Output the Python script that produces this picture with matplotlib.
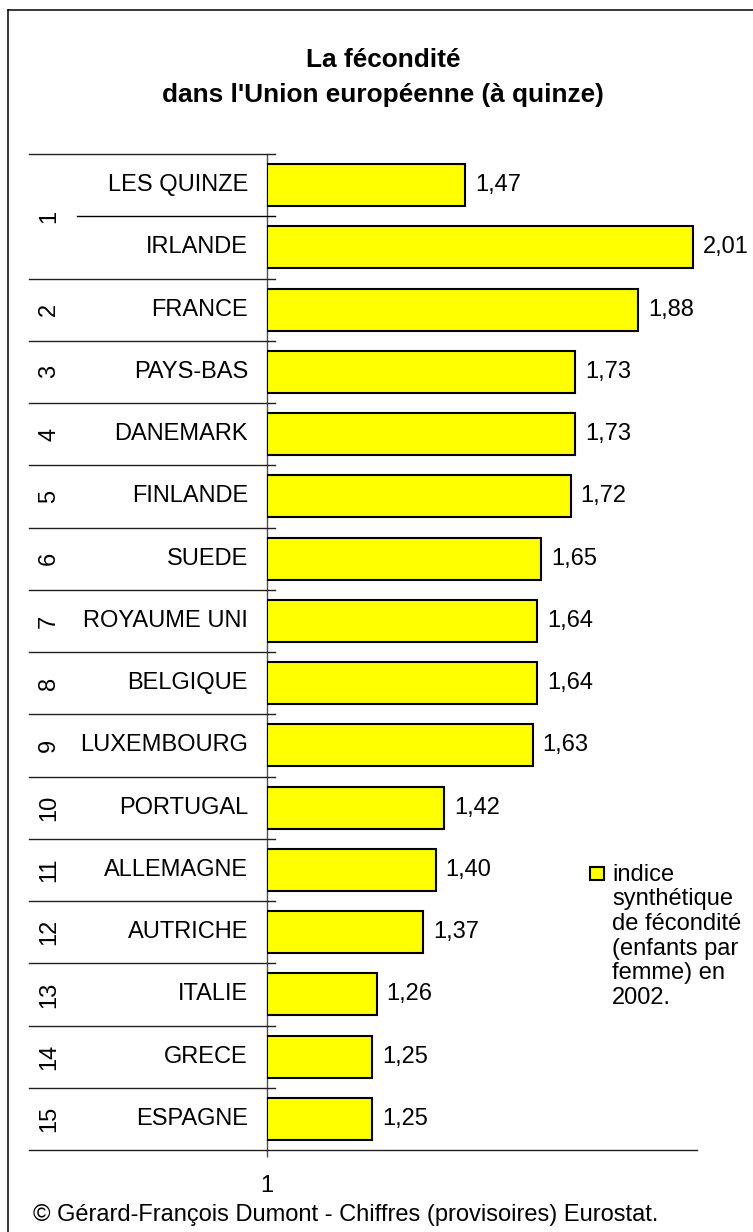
import matplotlib
matplotlib.use('Agg')
import matplotlib.pyplot as plt
from matplotlib.transforms import blended_transform_factory
from matplotlib.patches import Rectangle
from matplotlib.lines import Line2D

# ---------------- data ----------------
countries = ["LES QUINZE", "IRLANDE", "FRANCE", "PAYS-BAS", "DANEMARK", "FINLANDE",
             "SUEDE", "ROYAUME UNI", "BELGIQUE", "LUXEMBOURG", "PORTUGAL",
             "ALLEMAGNE", "AUTRICHE", "ITALIE", "GRECE", "ESPAGNE"]
values = [1.47, 2.01, 1.88, 1.73, 1.73, 1.72, 1.65, 1.64, 1.64, 1.63,
          1.42, 1.40, 1.37, 1.26, 1.25, 1.25]
ranks = ["1", "2", "3", "4", "5", "6", "7", "8", "9", "10",
         "11", "12", "13", "14", "15"]
# number of category rows covered by each rank group
rank_spans = [2, 1, 1, 1, 1, 1, 1, 1, 1, 1, 1, 1, 1, 1, 1]
x_ticks = [1]
x_ticklabels = ["1"]
title_lines = ["La fécondité", "dans l'Union européenne (à quinze)"]
legend_lines = ["indice", "synthétique", "de fécondité", "(enfants par", "femme) en", "2002."]
source = "© Gérard-François Dumont - Chiffres (provisoires) Eurostat."

# ---------------- figure ----------------
W, H = 753, 1232
plt.rcParams['font.family'] = ['Liberation Sans', 'DejaVu Sans']
fig = plt.figure(figsize=(W / 100, H / 100), dpi=100)
fig.patch.set_facecolor('white')


def fx(px):
    return px / W


def fy(py):
    return 1 - py / H


FS = 17
GREY = '#505050'
SEP = '#202020'

ax = fig.add_axes([fx(267), fy(1150), fx(697) - fx(267), fy(154) - fy(1150)])
n = len(countries)
ypos = list(range(n))
bars = ax.barh(ypos, [v - 1 for v in values], left=1, height=0.675,
               color='#FFFF00', edgecolor='black', linewidth=1.5, zorder=3)
ax.set_xlim(1, 1 + 430 / 421.8)
ax.set_ylim(n - 0.5, -0.5)
for s in ['top', 'right', 'bottom']:
    ax.spines[s].set_visible(False)
ax.spines['left'].set_color(GREY)
ax.spines['left'].set_linewidth(1.0)
ax.set_yticks([])
ax.set_xticks(x_ticks)
ax.set_xticklabels(x_ticklabels)
ax.tick_params(axis='x', direction='out', length=5, width=1.0, color=GREY,
               labelsize=FS, pad=13)
ax.patch.set_alpha(0)

ax.bar_label(bars, labels=[f"{v:.2f}".replace('.', ',') for v in values],
             padding=7.2, fontsize=FS)

# category separators on the left (multi-level axis)
trans = blended_transform_factory(fig.transFigure, ax.transData)
start = 0
inner_bounds = []
group_bounds = [-0.5]
for span in rank_spans:
    for k in range(1, span):
        inner_bounds.append(start + k - 0.5)
    start += span
    group_bounds.append(start - 0.5)

for b in group_bounds[:-1]:
    fig.add_artist(Line2D([fx(29), fx(275)], [b, b], transform=trans,
                          color=SEP, lw=1.0))
for b in inner_bounds:
    fig.add_artist(Line2D([fx(77), fx(275)], [b, b], transform=trans,
                          color='black', lw=1.0))
# bottom axis line
fig.add_artist(Line2D([fx(29), fx(697)], [fy(1150), fy(1150)],
                      transform=fig.transFigure, color=SEP, lw=1.0))

# country labels
for i, c in enumerate(countries):
    ax.text(fx(248), i, c, transform=trans, ha='right', va='center', fontsize=FS)

# rank labels
start = 0
for r, span in zip(ranks, rank_spans):
    yc = start + (span - 1) / 2
    ax.text(fx(49), yc, r, transform=trans, ha='center', va='center',
            rotation=90, fontsize=FS)
    start += span

# title
fig.text(fx(383), fy(67), title_lines[0], ha='center', va='baseline',
         fontsize=18.9, fontweight='bold')
fig.text(fx(383), fy(102), title_lines[1], ha='center', va='baseline',
         fontsize=18.9, fontweight='bold')

# legend
fig.add_artist(Rectangle((fx(590), fy(880)), 14 / W, 13 / H,
                         transform=fig.transFigure, facecolor='#FFFF00',
                         edgecolor='black', lw=1.5))
for k, line in enumerate(legend_lines):
    fig.text(fx(612), fy(881 + 24.5 * k), line, ha='left', va='baseline',
             fontsize=FS)

# source
fig.text(fx(33), fy(1221), source, ha='left', va='baseline', fontsize=FS)

# outer frame (left and top edges visible)
fig.add_artist(Line2D([fx(8), fx(8)], [fy(10), fy(1240)],
                      transform=fig.transFigure, color='black', lw=1.1))
fig.add_artist(Line2D([fx(8), fx(760)], [fy(10), fy(10)],
                      transform=fig.transFigure, color='black', lw=1.1))

fig.savefig('out.png', dpi=100, facecolor='white')
